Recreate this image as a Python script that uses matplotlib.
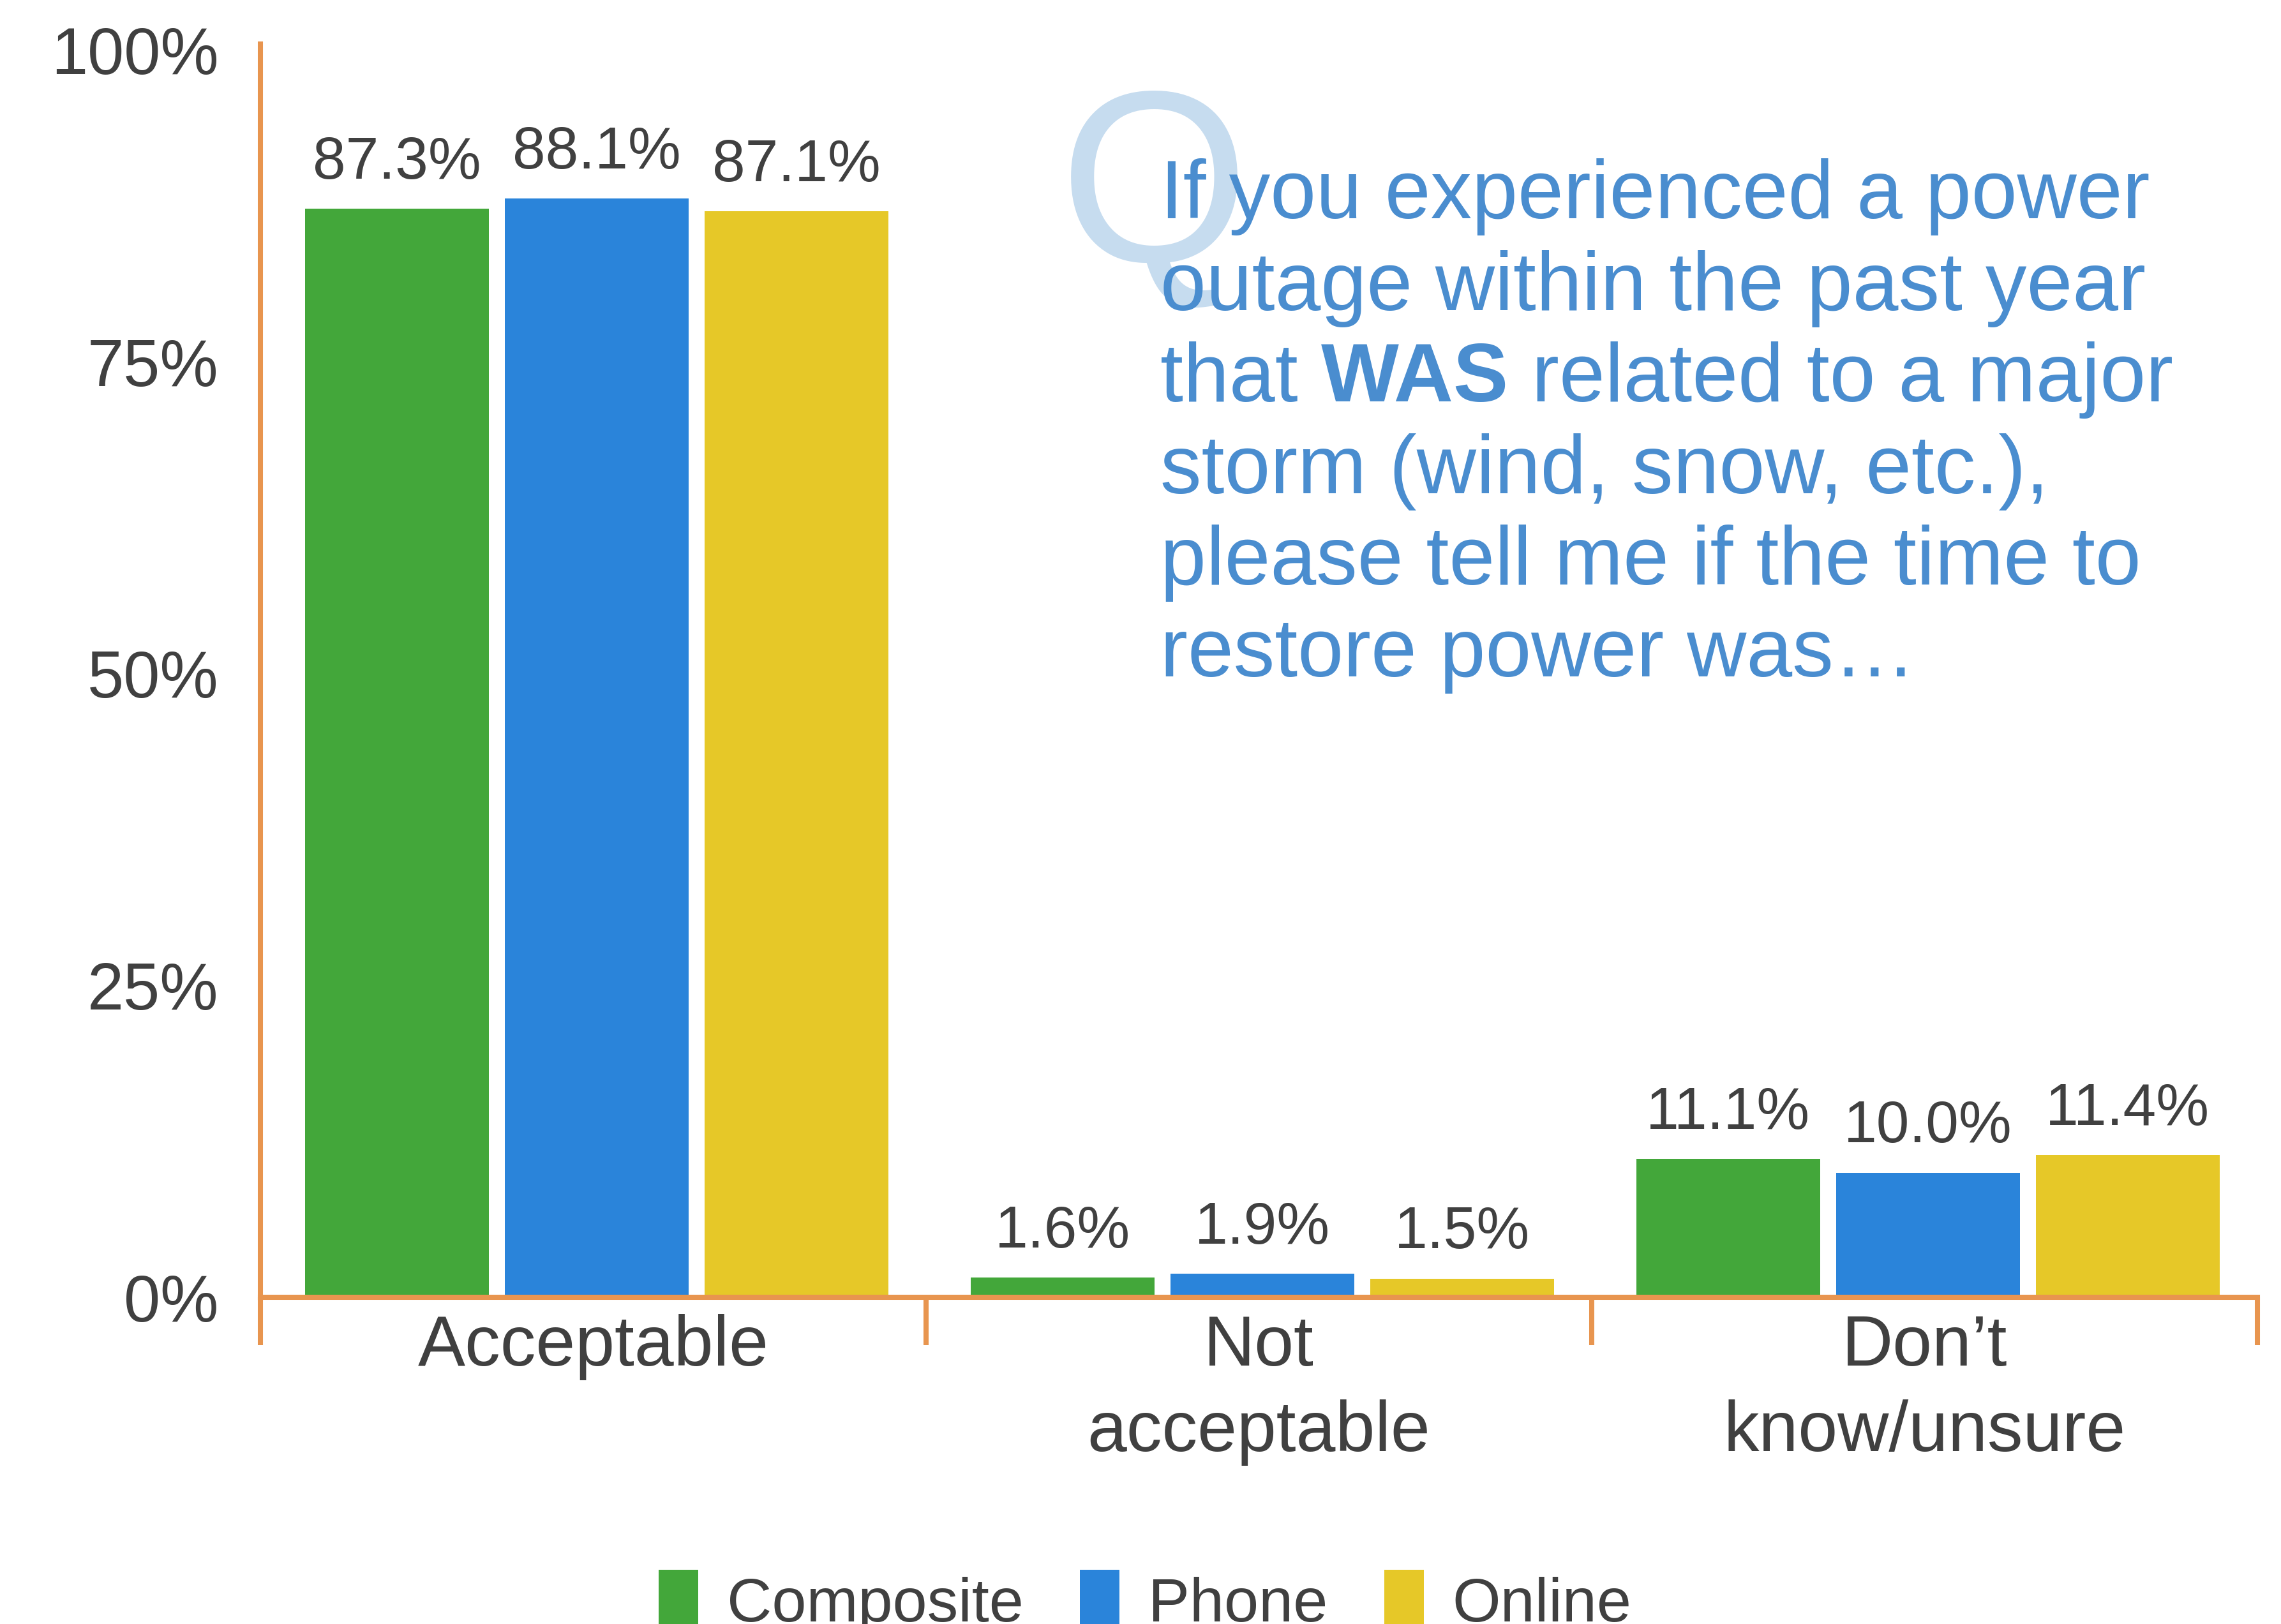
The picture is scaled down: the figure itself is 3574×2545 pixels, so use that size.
import matplotlib
matplotlib.use("Agg")
import matplotlib.pyplot as plt
import numpy as np
from matplotlib.patches import Patch

# ---- data -------------------------------------------------------------
categories = ["Acceptable", "Not\nacceptable", "Don\u2019t\nknow/unsure"]
series_names = ["Composite", "Phone", "Online"]
composite = [87.3, 1.6, 11.1]
phone = [88.1, 1.9, 10.0]
online = [87.1, 1.5, 11.4]
ytick_values = [0, 25, 50, 75, 100]
ytick_labels = ["0%", "25%", "50%", "75%", "100%"]
question_lines = [
    "If you experienced a power",
    "outage within the past year",
    None,  # line with bold emphasis, built below
    "storm (wind, snow, etc.),",
    "please tell me if the time to",
    "restore power was\u2026",
]
emph_line = ("that", "WAS", "related to a major")

# ---- style ------------------------------------------------------------
FONT = "Liberation Sans"
plt.rcParams["font.family"] = [FONT, "DejaVu Sans"]
colors = ["#43A73A", "#2A84DA", "#E6C828"]
axis_orange = "#E8954F"
text_gray = "#404040"
q_blue = "#4A8DCF"
q_light = "#C6DCEF"

W, H = 3574, 2545
fig = plt.figure(figsize=(W / 100, H / 100), dpi=100)
ax = fig.add_axes([408 / W, 1 - 2033 / H, (3537 - 408) / W, (2033 - 69) / H])

x = np.arange(len(categories))
bar_w = 0.276
step = 0.30
values = [composite, phone, online]
for i, (vals, col) in enumerate(zip(values, colors)):
    xs = x + (i - 1) * step + 0.005
    ax.bar(xs, vals, width=bar_w, color=col, zorder=1)
    for xi, v in zip(xs, vals):
        ax.annotate(f"{v:.1f}%", (xi, v), xytext=(0, 34),
                    textcoords="offset points", ha="center", va="baseline",
                    fontsize=67, color=text_gray)

ax.set_xlim(-0.5, len(categories) - 0.5)
ax.set_ylim(0, 100.5)

ax.set_yticks(ytick_values)
ax.set_yticklabels(ytick_labels)
ax.tick_params(axis="y", length=0, pad=47, labelsize=74, labelcolor=text_gray)

ax.set_xticks(x)
ax.set_xticklabels(categories, linespacing=1.36)
ax.set_xticks(np.arange(len(categories) + 1) - 0.5, minor=True)
ax.tick_params(axis="x", which="major", length=0, pad=19, labelsize=80,
               labelcolor=text_gray)
ax.tick_params(axis="x", which="minor", length=54, width=5.8,
               color=axis_orange, direction="out")

for side in ("top", "right"):
    ax.spines[side].set_visible(False)
for side in ("left", "bottom"):
    ax.spines[side].set_color(axis_orange)
    ax.spines[side].set_linewidth(5.8)

# ---- question panel ---------------------------------------------------
fig.text(1660 / W, 1 - 410 / H, "Q", fontsize=275, color=q_light,
         ha="left", va="baseline", zorder=1)

x0 = 1818 / W
base0 = 342
line_gap = 143.6
q_size = 93
renderer = fig.canvas.get_renderer()


def text_width(s, weight="normal"):
    t = fig.text(0, 0, s, fontsize=q_size, fontweight=weight)
    w = t.get_window_extent(renderer).width
    t.remove()
    return w


space_w = text_width("n n") - text_width("nn")

for k, line in enumerate(question_lines):
    y = 1 - (base0 + k * line_gap) / H
    if line is not None:
        fig.text(x0, y, line, fontsize=q_size, color=q_blue,
                 ha="left", va="baseline", zorder=2)
    else:
        pre, bold, post = emph_line
        xp = x0 * W
        fig.text(xp / W, y, pre, fontsize=q_size, color=q_blue,
                 ha="left", va="baseline", zorder=2)
        xp += text_width(pre) + space_w
        fig.text(xp / W, y, bold, fontsize=q_size, color=q_blue,
                 fontweight="bold", ha="left", va="baseline", zorder=2)
        xp += text_width(bold, "bold") + space_w
        fig.text(xp / W, y, post, fontsize=q_size, color=q_blue,
                 ha="left", va="baseline", zorder=2)

# ---- legend -----------------------------------------------------------
handles = [Patch(facecolor=c, edgecolor="none") for c in colors]
fig.legend(handles, series_names, loc="lower center",
           bbox_to_anchor=(0.502, -0.0063), ncol=3, frameon=False,
           fontsize=70, labelcolor=text_gray, handlelength=0.64,
           handleheight=1.16, handletextpad=0.46, columnspacing=0.91,
           borderpad=0, borderaxespad=0)

fig.savefig("out.png", dpi=100, facecolor="white")
